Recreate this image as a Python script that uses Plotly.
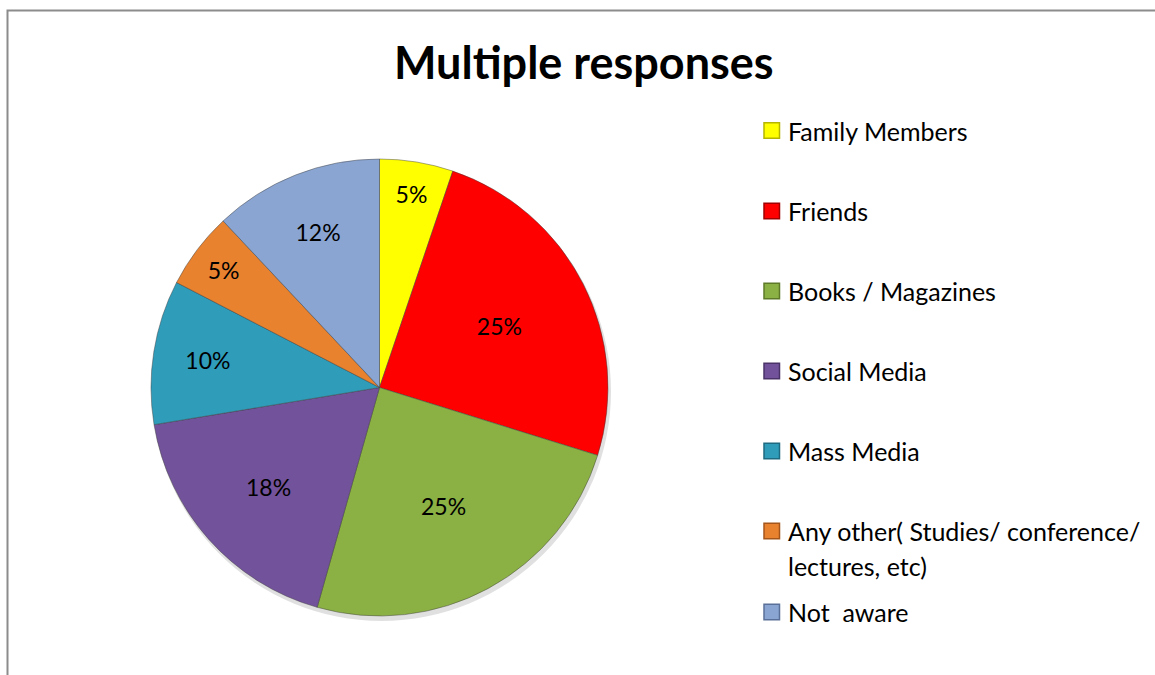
import plotly.graph_objects as go

# ---- data ----
categories = ["Family Members", "Friends", "Books / Magazines", "Social Media",
              "Mass Media", "Any other( Studies/ conference/ lectures, etc)", "Not  aware"]
values = [5.2, 24.6, 24.6, 18.0, 10.2, 5.4, 12.0]
colors = ["#FFFF00", "#FE0000", "#8BB043", "#72529A", "#2F9CBA", "#E8822E", "#8AA5D2"]
edge_colors = ["#B5B500", "#A00000", "#5E7A28", "#4A3368", "#1E6A80", "#A4561A", "#5A7099"]
title_text = "Multiple responses"

W, H = 1155, 675
FONT = "Lato, 'Open Sans', sans-serif"

# pie geometry in pixels (layout)
cx, cy, r = 379.5, 387.5, 228.5

fig = go.Figure()
fig.add_trace(go.Pie(
    labels=categories,
    values=values,
    sort=False,
    direction="clockwise",
    rotation=0,
    marker=dict(colors=colors, line=dict(color="rgba(60,60,60,0.45)", width=1)),
    texttemplate="%{percent:.0%}",
    textposition="inside",
    insidetextorientation="horizontal",
    textfont=dict(family=FONT, size=23, color="#000000"),
    showlegend=False,
    hoverinfo="label+percent",
    domain=dict(x=[(cx - r) / W, (cx + r) / W], y=[1 - (cy + r) / H, 1 - (cy - r) / H]),
))

shapes = []
annotations = []

# chart frame (top and left edges visible)
shapes.append(dict(type="rect", xref="paper", yref="paper",
                   x0=7.5 / W, x1=1.05, y0=-0.05, y1=1 - 10.5 / H,
                   line=dict(color="#8C8C8C", width=2), fillcolor="rgba(0,0,0,0)"))

# soft shadow behind pie
shapes.append(dict(type="circle", xref="paper", yref="paper", layer="below",
                   x0=(cx - r + 1) / W, x1=(cx + r + 3) / W,
                   y0=1 - (cy + r + 5) / H, y1=1 - (cy - r + 3) / H,
                   line=dict(width=0), fillcolor="rgba(0,0,0,0.12)"))

# title
annotations.append(dict(text="<b>" + title_text + "</b>", xref="paper", yref="paper",
                        x=584 / W, y=1 - 62 / H, xanchor="center", yanchor="middle",
                        showarrow=False, font=dict(family=FONT, size=45, color="#000000")))

# custom legend
row_y = [130.5, 211, 291, 371, 451, 531, 612]
sq_x0, sq = 764, 15.5
text_x = 786
for i, (lab, col, ec) in enumerate(zip(categories, colors, edge_colors)):
    y = row_y[i]
    shapes.append(dict(type="rect", xref="paper", yref="paper",
                       x0=sq_x0 / W, x1=(sq_x0 + sq) / W,
                       y0=1 - (y + sq / 2) / H, y1=1 - (y - sq / 2) / H,
                       fillcolor=col, line=dict(color=ec, width=1.5)))
    if lab.startswith("Any other"):
        lines = ["Any other( Studies/ conference/", "lectures, etc)"]
    else:
        lines = [lab]
    for j, ln in enumerate(lines):
        annotations.append(dict(text=ln, xref="paper", yref="paper",
                                x=text_x / W, y=1 - (y + 35 * j) / H,
                                xanchor="left", yanchor="middle", showarrow=False,
                                font=dict(family=FONT, size=25, color="#000000")))

fig.update_layout(
    width=W, height=H,
    margin=dict(l=0, r=0, t=0, b=0),
    paper_bgcolor="#FFFFFF",
    plot_bgcolor="#FFFFFF",
    shapes=shapes,
    annotations=annotations,
    showlegend=False,
)

fig.write_html("out.html")
